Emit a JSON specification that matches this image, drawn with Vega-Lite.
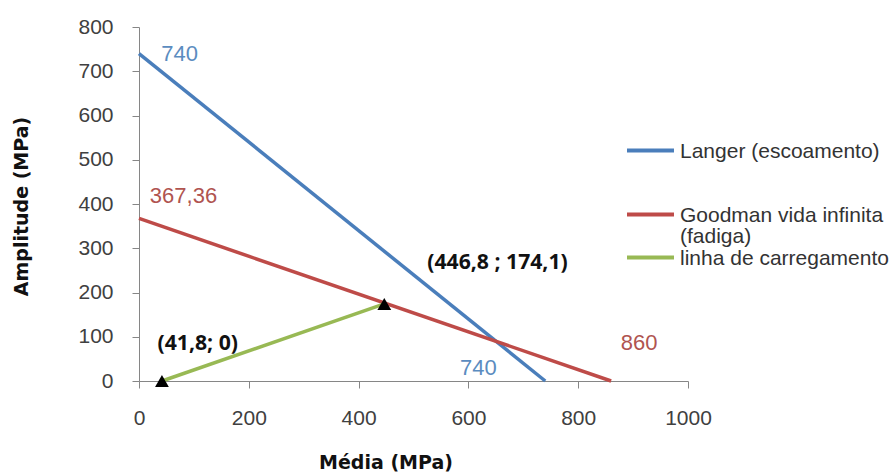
{
  "$schema": "https://vega.github.io/schema/vega-lite/v6.json",
  "width": 549,
  "height": 354,
  "autosize": {"type": "none"},
  "padding": {"left": 139, "top": 27, "right": 203, "bottom": 91},
  "background": "white",
  "config": {
    "view": {"stroke": null},
    "axis": {
      "grid": false,
      "domainColor": "#868686",
      "tickColor": "#868686",
      "domainWidth": 1,
      "tickWidth": 1,
      "tickSize": 7,
      "labelPadding": 19,
      "labelFont": "Liberation Sans",
      "labelFontSize": 21,
      "labelColor": "#404040",
      "labelFlush": false,
      "labelOverlap": false,
      "format": "d",
      "titleFont": "DejaVu Sans",
      "titleFontWeight": "bold",
      "titleFontSize": 19,
      "titleColor": "#111111"
    }
  },
  "datasets": {
    "lines": [
      {"serie": "Langer (escoamento)", "media": 0, "amplitude": 740},
      {"serie": "Langer (escoamento)", "media": 740, "amplitude": 0},
      {"serie": "Goodman vida infinita (fadiga)", "media": 0, "amplitude": 367.36},
      {"serie": "Goodman vida infinita (fadiga)", "media": 860, "amplitude": 0},
      {"serie": "linha de carregamento", "media": 41.8, "amplitude": 0},
      {"serie": "linha de carregamento", "media": 446.8, "amplitude": 174.1}
    ],
    "labels": [
      {"serie": "Langer (escoamento)", "texto": "740", "media": 74, "amplitude": 740},
      {"serie": "Langer (escoamento)", "texto": "740", "media": 618, "amplitude": 29},
      {"serie": "Goodman vida infinita (fadiga)", "texto": "367,36", "media": 81, "amplitude": 417},
      {"serie": "Goodman vida infinita (fadiga)", "texto": "860", "media": 911, "amplitude": 85}
    ],
    "coords": [
      {"texto": "(446,8 ; 174,1)", "media": 653, "amplitude": 267},
      {"texto": "(41,8; 0)", "media": 107, "amplitude": 84}
    ]
  },
  "layer": [
    {
      "data": {"name": "lines"},
      "mark": {"type": "line", "strokeWidth": 3.5},
      "encoding": {
        "x": {
          "field": "media", "type": "quantitative",
          "scale": {"domain": [0, 1000], "nice": false},
          "axis": {
            "values": [0, 200, 400, 600, 800, 1000],
            "title": "Média (MPa)",
            "titleX": 246.5, "titleY": 87,
            "titleBaseline": "alphabetic", "titleAlign": "center", "titleAnchor": null
          }
        },
        "y": {
          "field": "amplitude", "type": "quantitative",
          "scale": {"domain": [0, 800], "nice": false},
          "axis": {
            "values": [0, 100, 200, 300, 400, 500, 600, 700, 800],
            "title": "Amplitude (MPa)",
            "titleX": -112, "titleY": 179, "titleAngle": 270,
            "titleBaseline": "alphabetic", "titleAlign": "center", "titleAnchor": null
          }
        },
        "color": {
          "field": "serie", "type": "nominal",
          "scale": {
            "domain": ["Langer (escoamento)", "Goodman vida infinita (fadiga)", "linha de carregamento"],
            "range": ["#4A7EBB", "#BE4B48", "#98B954"]
          },
          "legend": {
            "title": null,
            "orient": "none",
            "legendX": 501,
            "legendY": 113,
            "padding": 0,
            "rowPadding": 0,
            "symbolType": "M-4,0H4",
            "symbolSize": 138,
            "symbolStrokeWidth": 4,
            "labelFont": "Liberation Sans",
            "labelFontSize": 21,
            "labelColor": "#333333",
            "labelOffset": 19,
            "labelBaseline": "alphabetic",
            "labelLimit": 400,
            "labelExpr": "datum.label == 'Langer (escoamento)' ? ['Langer (escoamento)', '', ''] : datum.label == 'Goodman vida infinita (fadiga)' ? ['Goodman vida infinita', '(fadiga)'] : datum.label",
            "encode": {"labels": {"update": {"dy": {"value": 7}, "lineHeight": {"value": 21}}}}
          }
        }
      }
    },
    {
      "data": {"name": "lines"},
      "transform": [{"filter": "datum.serie == 'linha de carregamento'"}],
      "mark": {"type": "point", "shape": "triangle-up", "filled": true, "size": 190, "color": "#000000", "opacity": 1},
      "encoding": {
        "x": {"field": "media", "type": "quantitative"},
        "y": {"field": "amplitude", "type": "quantitative"}
      }
    },
    {
      "data": {"name": "labels"},
      "mark": {"type": "text", "font": "Liberation Sans", "fontSize": 22, "align": "center", "baseline": "middle"},
      "encoding": {
        "x": {"field": "media", "type": "quantitative"},
        "y": {"field": "amplitude", "type": "quantitative"},
        "text": {"field": "texto"},
        "color": {
          "condition": {"test": "datum.serie == 'Langer (escoamento)'", "value": "#5B8CC0"},
          "value": "#B05450"
        }
      }
    },
    {
      "data": {"name": "coords"},
      "mark": {"type": "text", "font": "Open Sans", "fontWeight": "bold", "fontSize": 21.2, "align": "center", "baseline": "middle", "color": "#111111"},
      "encoding": {
        "x": {"field": "media", "type": "quantitative"},
        "y": {"field": "amplitude", "type": "quantitative"},
        "text": {"field": "texto"}
      }
    }
  ]
}
